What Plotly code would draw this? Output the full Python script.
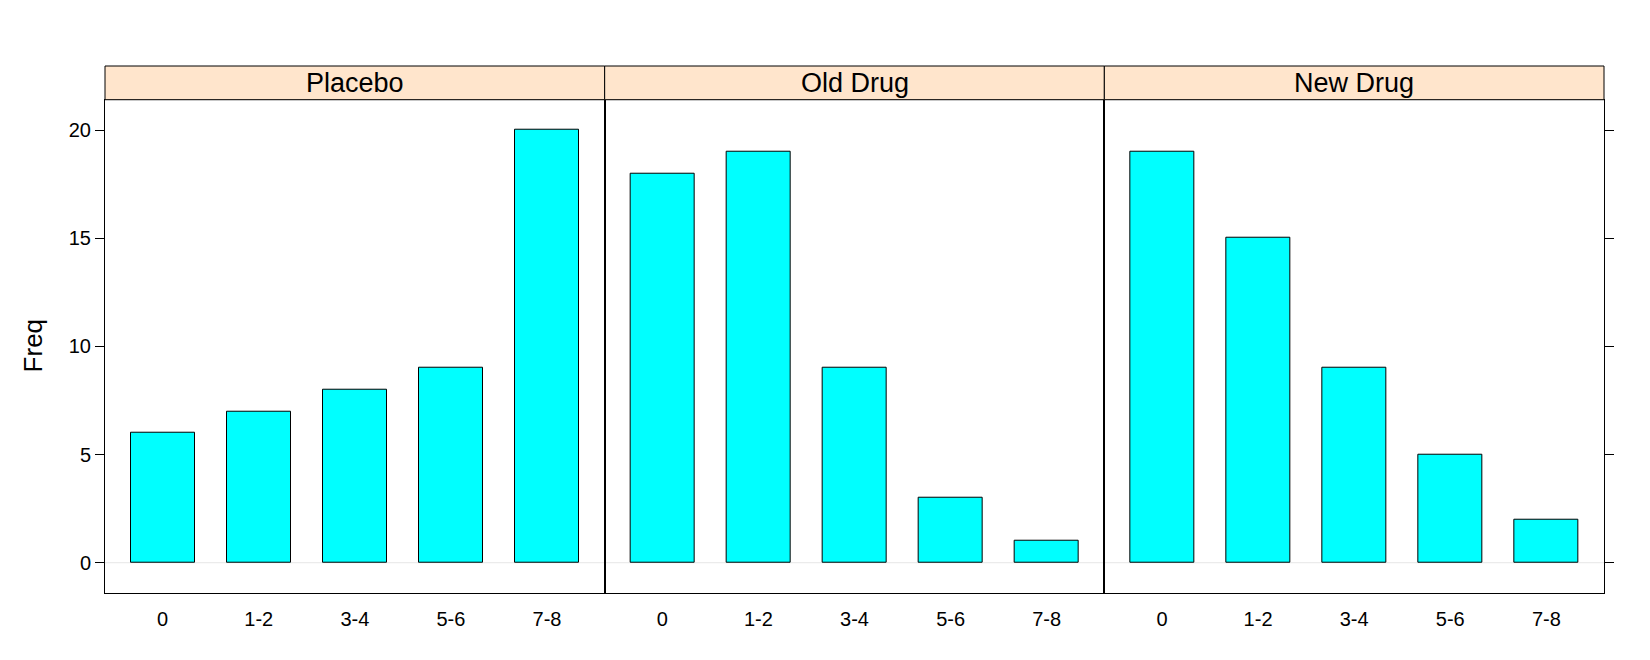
import plotly.graph_objects as go
from plotly.subplots import make_subplots

# counts per treatment group
categories = ["0", "1-2", "3-4", "5-6", "7-8"]
groups = ["Placebo", "Old Drug", "New Drug"]
placebo = [6, 7, 8, 9, 20]
old_drug = [18, 19, 9, 3, 1]
new_drug = [19, 15, 9, 5, 2]
y_ticks = [0, 5, 10, 15, 20]

series = [placebo, old_drug, new_drug]

fig = make_subplots(rows=1, cols=3, shared_yaxes=True, horizontal_spacing=0)

for i, vals in enumerate(series):
    fig.add_trace(
        go.Bar(
            x=categories,
            y=vals,
            width=0.667,
            marker=dict(color="#00ffff", line=dict(color="black", width=1)),
            showlegend=False,
        ),
        row=1, col=i + 1,
    )

panel_top = 0.936
font = "Liberation Sans, Arial, sans-serif"

for i in range(3):
    xa = "xaxis" if i == 0 else "xaxis%d" % (i + 1)
    fig.layout[xa].update(
        range=[-0.6, 4.6],
        showline=True, linecolor="black", linewidth=1, mirror=True,
        ticks="outside", ticklen=8, tickcolor="rgba(0,0,0,0)",
        showgrid=False, zeroline=False,
        tickfont=dict(size=20, color="black", family=font),
    )
    ya = "yaxis" if i == 0 else "yaxis%d" % (i + 1)
    fig.layout[ya].update(
        domain=[0, panel_top],
        range=[-1.4, 21.4],
        tickvals=y_ticks,
        showline=True, linecolor="black", linewidth=1, mirror=True,
        showgrid=False, zeroline=False,
        tickfont=dict(size=20, color="black", family=font),
    )
    # faint reference line at zero
    xref = "x domain" if i == 0 else "x%d domain" % (i + 1)
    yref = "y" if i == 0 else "y%d" % (i + 1)
    fig.add_shape(type="line", xref=xref, yref=yref, x0=0, x1=1, y0=0, y1=0,
                  line=dict(color="#e6e6e6", width=1), layer="below")
    # strip
    fig.add_shape(type="rect", xref="paper", yref="paper",
                  x0=i / 3, x1=(i + 1) / 3, y0=panel_top, y1=1,
                  fillcolor="#ffe5cc", line=dict(color="black", width=1))
    fig.add_annotation(text=groups[i], xref="paper", yref="paper",
                       x=(i + 0.5) / 3, y=(panel_top + 1) / 2,
                       showarrow=False, xanchor="center", yanchor="middle",
                       font=dict(size=27, color="black", family=font))

fig.layout.yaxis.update(ticks="outside", ticklen=9, tickcolor="black")
fig.layout.yaxis2.update(ticks="")
fig.layout.yaxis3.update(ticks="outside", ticklen=9, tickcolor="black",
                         side="right", showticklabels=False)

fig.add_annotation(text="Freq", xref="paper", yref="paper",
                   x=-0.048, y=panel_top / 2, textangle=-90,
                   showarrow=False, xanchor="center", yanchor="middle",
                   font=dict(size=26, color="black", family=font))

fig.update_layout(
    width=1650, height=660,
    margin=dict(l=97, r=54, t=58, b=75),
    plot_bgcolor="white", paper_bgcolor="white",
    bargap=0,
)

fig.write_html("out.html")
